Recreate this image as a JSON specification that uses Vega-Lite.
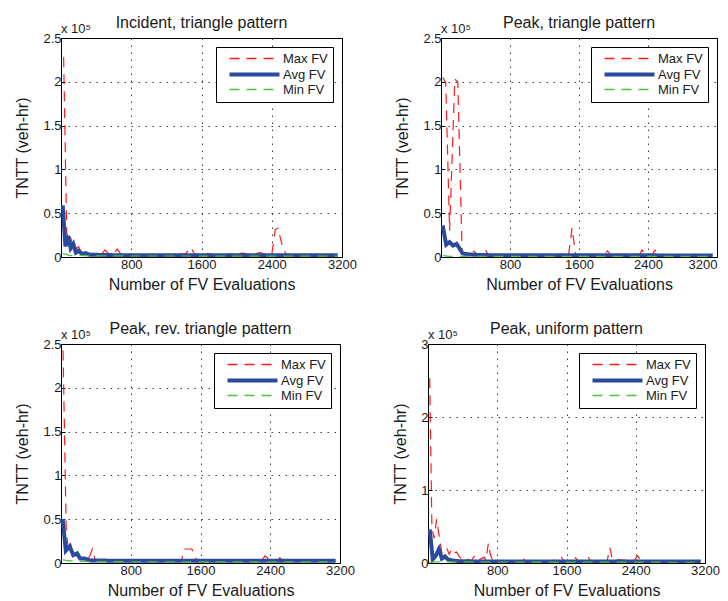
{
"$schema":"https://vega.github.io/schema/vega-lite/v6.json",
"padding":{"left":14,"top":14,"right":0,"bottom":0},
"background":"white",
"datasets":{
"d":[
{"p":1,"s":"Max FV","x":30,"y":228000},{"p":1,"s":"Max FV","x":65,"y":28000},{"p":1,"s":"Max FV","x":90,"y":18000},{"p":1,"s":"Max FV","x":110,"y":22000},{"p":1,"s":"Max FV","x":130,"y":14000},{"p":1,"s":"Max FV","x":150,"y":17000},{"p":1,"s":"Max FV","x":175,"y":9000},{"p":1,"s":"Max FV","x":200,"y":12000},{"p":1,"s":"Max FV","x":230,"y":6000},{"p":1,"s":"Max FV","x":260,"y":7000},{"p":1,"s":"Max FV","x":300,"y":4000},{"p":1,"s":"Max FV","x":340,"y":3500},{"p":1,"s":"Max FV","x":380,"y":3000},{"p":1,"s":"Max FV","x":420,"y":4000},{"p":1,"s":"Max FV","x":460,"y":3000},{"p":1,"s":"Max FV","x":500,"y":8000},{"p":1,"s":"Max FV","x":540,"y":4000},{"p":1,"s":"Max FV","x":600,"y":3500},{"p":1,"s":"Max FV","x":640,"y":9000},{"p":1,"s":"Max FV","x":680,"y":3500},{"p":1,"s":"Max FV","x":760,"y":3000},{"p":1,"s":"Max FV","x":900,"y":2500},{"p":1,"s":"Max FV","x":1100,"y":2500},{"p":1,"s":"Max FV","x":1300,"y":2500},{"p":1,"s":"Max FV","x":1420,"y":4000},{"p":1,"s":"Max FV","x":1480,"y":11000},{"p":1,"s":"Max FV","x":1520,"y":3000},{"p":1,"s":"Max FV","x":1680,"y":4000},{"p":1,"s":"Max FV","x":1760,"y":2500},{"p":1,"s":"Max FV","x":1900,"y":3000},{"p":1,"s":"Max FV","x":2080,"y":4500},{"p":1,"s":"Max FV","x":2150,"y":2500},{"p":1,"s":"Max FV","x":2270,"y":5000},{"p":1,"s":"Max FV","x":2340,"y":2500},{"p":1,"s":"Max FV","x":2400,"y":3000},{"p":1,"s":"Max FV","x":2440,"y":31000},{"p":1,"s":"Max FV","x":2470,"y":33000},{"p":1,"s":"Max FV","x":2530,"y":9000},{"p":1,"s":"Max FV","x":2570,"y":2500},{"p":1,"s":"Max FV","x":2800,"y":2500},{"p":1,"s":"Max FV","x":3150,"y":2500},
{"p":1,"s":"Avg FV","x":20,"y":59000},{"p":1,"s":"Avg FV","x":50,"y":12000},{"p":1,"s":"Avg FV","x":80,"y":24000},{"p":1,"s":"Avg FV","x":110,"y":10000},{"p":1,"s":"Avg FV","x":140,"y":15000},{"p":1,"s":"Avg FV","x":170,"y":5000},{"p":1,"s":"Avg FV","x":200,"y":7000},{"p":1,"s":"Avg FV","x":240,"y":3500},{"p":1,"s":"Avg FV","x":280,"y":4500},{"p":1,"s":"Avg FV","x":330,"y":2500},{"p":1,"s":"Avg FV","x":400,"y":2500},{"p":1,"s":"Avg FV","x":500,"y":2200},{"p":1,"s":"Avg FV","x":800,"y":2000},{"p":1,"s":"Avg FV","x":1600,"y":2000},{"p":1,"s":"Avg FV","x":2400,"y":1900},{"p":1,"s":"Avg FV","x":3150,"y":1900},
{"p":1,"s":"Min FV","x":20,"y":4000},{"p":1,"s":"Min FV","x":60,"y":3000},{"p":1,"s":"Min FV","x":100,"y":1500},{"p":1,"s":"Min FV","x":200,"y":2000},{"p":1,"s":"Min FV","x":300,"y":1200},{"p":1,"s":"Min FV","x":3150,"y":1000},

{"p":2,"s":"Max FV","x":20,"y":205000},{"p":2,"s":"Max FV","x":55,"y":199000},{"p":2,"s":"Max FV","x":100,"y":30000},{"p":2,"s":"Max FV","x":160,"y":203000},{"p":2,"s":"Max FV","x":195,"y":200000},{"p":2,"s":"Max FV","x":245,"y":5000},{"p":2,"s":"Max FV","x":300,"y":4000},{"p":2,"s":"Max FV","x":360,"y":8000},{"p":2,"s":"Max FV","x":410,"y":4000},{"p":2,"s":"Max FV","x":470,"y":3000},{"p":2,"s":"Max FV","x":510,"y":9000},{"p":2,"s":"Max FV","x":545,"y":3000},{"p":2,"s":"Max FV","x":700,"y":2500},{"p":2,"s":"Max FV","x":1000,"y":2500},{"p":2,"s":"Max FV","x":1300,"y":2500},{"p":2,"s":"Max FV","x":1480,"y":3000},{"p":2,"s":"Max FV","x":1520,"y":33000},{"p":2,"s":"Max FV","x":1560,"y":3000},{"p":2,"s":"Max FV","x":1700,"y":2500},{"p":2,"s":"Max FV","x":1900,"y":3000},{"p":2,"s":"Max FV","x":1930,"y":7000},{"p":2,"s":"Max FV","x":1970,"y":2500},{"p":2,"s":"Max FV","x":2300,"y":2500},{"p":2,"s":"Max FV","x":2330,"y":8000},{"p":2,"s":"Max FV","x":2370,"y":2500},{"p":2,"s":"Max FV","x":2450,"y":3000},{"p":2,"s":"Max FV","x":2480,"y":8000},{"p":2,"s":"Max FV","x":2520,"y":2500},{"p":2,"s":"Max FV","x":2800,"y":2500},{"p":2,"s":"Max FV","x":3150,"y":2500},
{"p":2,"s":"Avg FV","x":20,"y":36000},{"p":2,"s":"Avg FV","x":60,"y":14000},{"p":2,"s":"Avg FV","x":100,"y":17000},{"p":2,"s":"Avg FV","x":140,"y":13000},{"p":2,"s":"Avg FV","x":180,"y":15000},{"p":2,"s":"Avg FV","x":220,"y":9000},{"p":2,"s":"Avg FV","x":250,"y":4000},{"p":2,"s":"Avg FV","x":320,"y":3000},{"p":2,"s":"Avg FV","x":450,"y":2200},{"p":2,"s":"Avg FV","x":800,"y":2000},{"p":2,"s":"Avg FV","x":3150,"y":1800},
{"p":2,"s":"Min FV","x":20,"y":1500},{"p":2,"s":"Min FV","x":100,"y":800},{"p":2,"s":"Min FV","x":3150,"y":800},

{"p":3,"s":"Max FV","x":20,"y":262000},{"p":3,"s":"Max FV","x":60,"y":37000},{"p":3,"s":"Max FV","x":80,"y":19000},{"p":3,"s":"Max FV","x":105,"y":25000},{"p":3,"s":"Max FV","x":130,"y":12000},{"p":3,"s":"Max FV","x":150,"y":13000},{"p":3,"s":"Max FV","x":175,"y":7000},{"p":3,"s":"Max FV","x":200,"y":10000},{"p":3,"s":"Max FV","x":230,"y":5000},{"p":3,"s":"Max FV","x":260,"y":6000},{"p":3,"s":"Max FV","x":300,"y":4000},{"p":3,"s":"Max FV","x":330,"y":8000},{"p":3,"s":"Max FV","x":360,"y":16000},{"p":3,"s":"Max FV","x":390,"y":4000},{"p":3,"s":"Max FV","x":450,"y":3000},{"p":3,"s":"Max FV","x":700,"y":2500},{"p":3,"s":"Max FV","x":1000,"y":2500},{"p":3,"s":"Max FV","x":1380,"y":2500},{"p":3,"s":"Max FV","x":1420,"y":16000},{"p":3,"s":"Max FV","x":1500,"y":16000},{"p":3,"s":"Max FV","x":1560,"y":3000},{"p":3,"s":"Max FV","x":1700,"y":2500},{"p":3,"s":"Max FV","x":2300,"y":2500},{"p":3,"s":"Max FV","x":2340,"y":8000},{"p":3,"s":"Max FV","x":2400,"y":3000},{"p":3,"s":"Max FV","x":2480,"y":3000},{"p":3,"s":"Max FV","x":2510,"y":6000},{"p":3,"s":"Max FV","x":2550,"y":2500},{"p":3,"s":"Max FV","x":3150,"y":2500},
{"p":3,"s":"Avg FV","x":20,"y":50000},{"p":3,"s":"Avg FV","x":55,"y":14000},{"p":3,"s":"Avg FV","x":100,"y":19000},{"p":3,"s":"Avg FV","x":140,"y":9000},{"p":3,"s":"Avg FV","x":185,"y":11000},{"p":3,"s":"Avg FV","x":220,"y":5000},{"p":3,"s":"Avg FV","x":275,"y":5000},{"p":3,"s":"Avg FV","x":330,"y":3000},{"p":3,"s":"Avg FV","x":400,"y":2800},{"p":3,"s":"Avg FV","x":800,"y":2500},{"p":3,"s":"Avg FV","x":3150,"y":2500},
{"p":3,"s":"Min FV","x":20,"y":3500},{"p":3,"s":"Min FV","x":100,"y":2500},{"p":3,"s":"Min FV","x":300,"y":1500},{"p":3,"s":"Min FV","x":3150,"y":1200},

{"p":4,"s":"Max FV","x":20,"y":253000},{"p":4,"s":"Max FV","x":45,"y":48000},{"p":4,"s":"Max FV","x":70,"y":34000},{"p":4,"s":"Max FV","x":100,"y":60000},{"p":4,"s":"Max FV","x":125,"y":40000},{"p":4,"s":"Max FV","x":160,"y":14000},{"p":4,"s":"Max FV","x":215,"y":21000},{"p":4,"s":"Max FV","x":245,"y":12000},{"p":4,"s":"Max FV","x":275,"y":19000},{"p":4,"s":"Max FV","x":300,"y":14000},{"p":4,"s":"Max FV","x":330,"y":15000},{"p":4,"s":"Max FV","x":365,"y":8000},{"p":4,"s":"Max FV","x":400,"y":4000},{"p":4,"s":"Max FV","x":460,"y":5000},{"p":4,"s":"Max FV","x":500,"y":3000},{"p":4,"s":"Max FV","x":540,"y":10000},{"p":4,"s":"Max FV","x":580,"y":4000},{"p":4,"s":"Max FV","x":620,"y":6000},{"p":4,"s":"Max FV","x":650,"y":8000},{"p":4,"s":"Max FV","x":670,"y":3000},{"p":4,"s":"Max FV","x":697,"y":27000},{"p":4,"s":"Max FV","x":720,"y":12000},{"p":4,"s":"Max FV","x":745,"y":4000},{"p":4,"s":"Max FV","x":800,"y":3000},{"p":4,"s":"Max FV","x":1100,"y":3000},{"p":4,"s":"Max FV","x":1130,"y":9000},{"p":4,"s":"Max FV","x":1170,"y":3000},{"p":4,"s":"Max FV","x":1450,"y":3000},{"p":4,"s":"Max FV","x":1490,"y":7000},{"p":4,"s":"Max FV","x":1540,"y":8000},{"p":4,"s":"Max FV","x":1570,"y":3000},{"p":4,"s":"Max FV","x":1680,"y":3000},{"p":4,"s":"Max FV","x":1705,"y":7000},{"p":4,"s":"Max FV","x":1740,"y":3000},{"p":4,"s":"Max FV","x":1830,"y":3000},{"p":4,"s":"Max FV","x":1850,"y":8000},{"p":4,"s":"Max FV","x":1880,"y":3000},{"p":4,"s":"Max FV","x":2070,"y":3000},{"p":4,"s":"Max FV","x":2100,"y":21000},{"p":4,"s":"Max FV","x":2130,"y":5000},{"p":4,"s":"Max FV","x":2380,"y":3000},{"p":4,"s":"Max FV","x":2420,"y":10000},{"p":4,"s":"Max FV","x":2460,"y":3000},{"p":4,"s":"Max FV","x":3150,"y":3000},
{"p":4,"s":"Avg FV","x":20,"y":46000},{"p":4,"s":"Avg FV","x":55,"y":5000},{"p":4,"s":"Avg FV","x":90,"y":10000},{"p":4,"s":"Avg FV","x":126,"y":19000},{"p":4,"s":"Avg FV","x":160,"y":6000},{"p":4,"s":"Avg FV","x":195,"y":9000},{"p":4,"s":"Avg FV","x":230,"y":5000},{"p":4,"s":"Avg FV","x":280,"y":3500},{"p":4,"s":"Avg FV","x":350,"y":2500},{"p":4,"s":"Avg FV","x":500,"y":2200},{"p":4,"s":"Avg FV","x":3150,"y":2000},
{"p":4,"s":"Min FV","x":20,"y":1500},{"p":4,"s":"Min FV","x":3150,"y":1000}
],
"note":[{"t":"x 10⁵"}]
},
"config":{
"font":"Liberation Sans",
"view":{"stroke":"#000","strokeWidth":1},
"axis":{"grid":true,"gridColor":"#000","gridDash":[1.5,5.5],"gridOpacity":0.75,"domainColor":"#000","tickColor":"#000","tickSize":-4,"labelFontSize":13,"labelColor":"#1a1a1a","labelFont":"Liberation Sans","titleFont":"Liberation Sans","titleFontSize":16,"titleFontWeight":"normal","titleColor":"#1a1a1a"},
"axisY":{"titlePadding":12,"labelPadding":4},
"axisX":{"titlePadding":5,"labelPadding":5,"labelFlush":false,"format":"d"},
"title":{"fontSize":16,"fontWeight":"normal","font":"Liberation Sans","offset":-8,"color":"#1a1a1a"},
"legend":{"orient":"top-right","offset":9,"strokeColor":"#000","fillColor":"#fff","padding":5,"labelFontSize":13,"labelColor":"#1a1a1a","labelFont":"Liberation Sans","symbolType":"M0.5,0H13","symbolSize":64,"labelOffset":49,"rowPadding":0,"symbolStrokeWidth":1.2}
},
"spacing":27,
"resolve":{"scale":{"x":"independent","y":"independent","color":"independent"},"legend":{"color":"independent"}},
"vconcat":[
{"hconcat":[
{"width":281,"height":219,"title":"Incident, triangle pattern",
 "layer":[
 {"data":{"name":"d"},"transform":[{"filter":"datum.p==1"}],"mark":{"type":"line","clip":true},
  "encoding":{
   "x":{"field":"x","type":"quantitative","scale":{"domain":[0,3200],"nice":false},"axis":{"values":[800,1600,2400,3200],"title":"Number of FV Evaluations"}},
   "y":{"field":"y","type":"quantitative","scale":{"domain":[0,250000],"nice":false},"axis":{"values":[0,50000,100000,150000,200000,250000],"labelExpr":"format(datum.value/100000,'~g')","title":"TNTT (veh-hr)"}},
   "color":{"field":"s","type":"nominal","scale":{"domain":["Max FV","Avg FV","Min FV"],"range":["#ff1a1a","#2a4a9e","#4cc43a"]},"legend":{"title":null,"encode":{"symbols":{"update":{"strokeWidth":{"signal":"datum.value === 'Avg FV' ? 4 : 1.3"},"strokeDash":{"signal":"datum.value === 'Avg FV' ? [1,0] : [10,7]"}}}}}},
   "strokeDash":{"condition":{"test":"datum.s === 'Avg FV'","value":[1,0]},"value":[10,7]},
   "strokeWidth":{"condition":{"test":"datum.s === 'Avg FV'","value":4},"value":1.2}
  }},
 {"data":{"name":"note"},"mark":{"type":"text","align":"left","baseline":"bottom","dy":-2,"fontSize":13,"color":"#1a1a1a"},
  "encoding":{"x":{"datum":0,"type":"quantitative"},"y":{"datum":250000,"type":"quantitative"},"text":{"field":"t"}}}
 ]},
{"width":276,"height":219,"title":"Peak, triangle pattern",
 "layer":[
 {"data":{"name":"d"},"transform":[{"filter":"datum.p==2"}],"mark":{"type":"line","clip":true},
  "encoding":{
   "x":{"field":"x","type":"quantitative","scale":{"domain":[0,3200],"nice":false},"axis":{"values":[800,1600,2400,3200],"title":"Number of FV Evaluations","labelFlush":true,"labelFlushOffset":0}},
   "y":{"field":"y","type":"quantitative","scale":{"domain":[0,250000],"nice":false},"axis":{"values":[0,50000,100000,150000,200000,250000],"labelExpr":"format(datum.value/100000,'~g')","title":"TNTT (veh-hr)"}},
   "color":{"field":"s","type":"nominal","scale":{"domain":["Max FV","Avg FV","Min FV"],"range":["#ff1a1a","#2a4a9e","#4cc43a"]},"legend":{"title":null,"encode":{"symbols":{"update":{"strokeWidth":{"signal":"datum.value === 'Avg FV' ? 4 : 1.3"},"strokeDash":{"signal":"datum.value === 'Avg FV' ? [1,0] : [10,7]"}}}}}},
   "strokeDash":{"condition":{"test":"datum.s === 'Avg FV'","value":[1,0]},"value":[10,7]},
   "strokeWidth":{"condition":{"test":"datum.s === 'Avg FV'","value":4},"value":1.2}
  }},
 {"data":{"name":"note"},"mark":{"type":"text","align":"left","baseline":"bottom","dy":-2,"fontSize":13,"color":"#1a1a1a"},
  "encoding":{"x":{"datum":0,"type":"quantitative"},"y":{"datum":250000,"type":"quantitative"},"text":{"field":"t"}}}
 ]}
],
"spacing":37,
"resolve":{"scale":{"x":"independent","y":"independent","color":"independent"},"legend":{"color":"independent"}}
},
{"hconcat":[
{"width":279,"height":219,"title":"Peak, rev. triangle pattern",
 "layer":[
 {"data":{"name":"d"},"transform":[{"filter":"datum.p==3"}],"mark":{"type":"line","clip":true},
  "encoding":{
   "x":{"field":"x","type":"quantitative","scale":{"domain":[0,3200],"nice":false},"axis":{"values":[800,1600,2400,3200],"title":"Number of FV Evaluations"}},
   "y":{"field":"y","type":"quantitative","scale":{"domain":[0,250000],"nice":false},"axis":{"values":[0,50000,100000,150000,200000,250000],"labelExpr":"format(datum.value/100000,'~g')","title":"TNTT (veh-hr)"}},
   "color":{"field":"s","type":"nominal","scale":{"domain":["Max FV","Avg FV","Min FV"],"range":["#ff1a1a","#2a4a9e","#4cc43a"]},"legend":{"title":null,"encode":{"symbols":{"update":{"strokeWidth":{"signal":"datum.value === 'Avg FV' ? 4 : 1.3"},"strokeDash":{"signal":"datum.value === 'Avg FV' ? [1,0] : [10,7]"}}}}}},
   "strokeDash":{"condition":{"test":"datum.s === 'Avg FV'","value":[1,0]},"value":[10,7]},
   "strokeWidth":{"condition":{"test":"datum.s === 'Avg FV'","value":4},"value":1.2}
  }},
 {"data":{"name":"note"},"mark":{"type":"text","align":"left","baseline":"bottom","dy":-2,"fontSize":13,"color":"#1a1a1a"},
  "encoding":{"x":{"datum":0,"type":"quantitative"},"y":{"datum":250000,"type":"quantitative"},"text":{"field":"t"}}}
 ]},
{"width":277,"height":219,"title":"Peak, uniform pattern",
 "layer":[
 {"data":{"name":"d"},"transform":[{"filter":"datum.p==4"}],"mark":{"type":"line","clip":true},
  "encoding":{
   "x":{"field":"x","type":"quantitative","scale":{"domain":[0,3200],"nice":false},"axis":{"values":[800,1600,2400,3200],"title":"Number of FV Evaluations"}},
   "y":{"field":"y","type":"quantitative","scale":{"domain":[0,300000],"nice":false},"axis":{"values":[0,50000,100000,150000,200000,250000,300000],"labelExpr":"format(datum.value/100000,'~g')","title":"TNTT (veh-hr)"}},
   "color":{"field":"s","type":"nominal","scale":{"domain":["Max FV","Avg FV","Min FV"],"range":["#ff1a1a","#2a4a9e","#4cc43a"]},"legend":{"title":null,"encode":{"symbols":{"update":{"strokeWidth":{"signal":"datum.value === 'Avg FV' ? 4 : 1.3"},"strokeDash":{"signal":"datum.value === 'Avg FV' ? [1,0] : [10,7]"}}}}}},
   "strokeDash":{"condition":{"test":"datum.s === 'Avg FV'","value":[1,0]},"value":[10,7]},
   "strokeWidth":{"condition":{"test":"datum.s === 'Avg FV'","value":4},"value":1.2}
  }},
 {"data":{"name":"note"},"mark":{"type":"text","align":"left","baseline":"bottom","dy":-2,"fontSize":13,"color":"#1a1a1a"},
  "encoding":{"x":{"datum":0,"type":"quantitative"},"y":{"datum":300000,"type":"quantitative"},"text":{"field":"t"}}}
 ]}
],
"spacing":37,
"resolve":{"scale":{"x":"independent","y":"independent","color":"independent"},"legend":{"color":"independent"}}
}
]
}
